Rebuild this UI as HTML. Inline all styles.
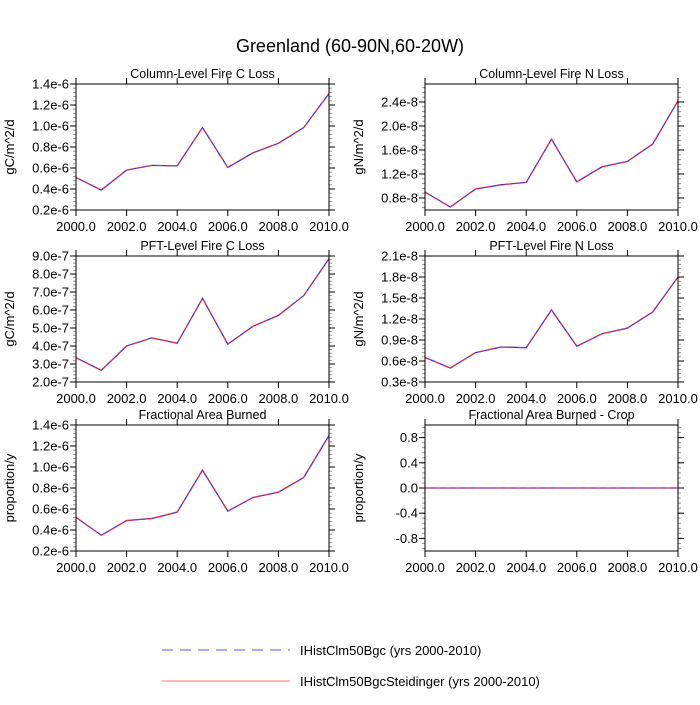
<!DOCTYPE html>
<html><head><meta charset="utf-8"><style>
body{margin:0;background:#fff;}
svg text{font-family:"Liberation Sans",sans-serif;fill:#000;}
</style></head><body>
<svg id="c" width="700" height="700" xmlns="http://www.w3.org/2000/svg">
<text x="350" y="52" font-size="18" text-anchor="middle">Greenland (60-90N,60-20W)</text>
<g id="panels"></g>
<g>
<line x1="162" y1="650" x2="290" y2="650" stroke="#5555ff" stroke-width="1" stroke-dasharray="11,7"/>
<text x="300" y="655" font-size="13">IHistClm50Bgc (yrs 2000-2010)</text>
<line x1="162" y1="681" x2="290" y2="681" stroke="#ff7777" stroke-width="1"/>
<text x="300" y="686" font-size="13">IHistClm50BgcSteidinger (yrs 2000-2010)</text>
</g>
</svg>
<script>
const years=[2000,2001,2002,2003,2004,2005,2006,2007,2008,2009,2010];
const xTicks=[2000,2002,2004,2006,2008,2010];
const xTickLabels=["2000.0","2002.0","2004.0","2006.0","2008.0","2010.0"];
const colCLoss=[0.51,0.39,0.58,0.625,0.62,0.985,0.605,0.745,0.835,0.985,1.31];
const colNLoss=[0.90,0.65,0.95,1.02,1.06,1.78,1.07,1.32,1.41,1.70,2.42];
const pftCLoss=[3.35,2.65,4.0,4.45,4.15,6.65,4.1,5.1,5.7,6.8,8.85];
const pftNLoss=[0.65,0.50,0.72,0.80,0.79,1.33,0.81,0.99,1.07,1.30,1.80];
const areaBurned=[0.52,0.35,0.49,0.51,0.57,0.97,0.58,0.71,0.76,0.90,1.30];
const areaBurnedCrop=[0,0,0,0,0,0,0,0,0,0,0];
const ticksCC=[0.2,0.4,0.6,0.8,1.0,1.2,1.4];
const labelsCC=["0.2e-6","0.4e-6","0.6e-6","0.8e-6","1.0e-6","1.2e-6","1.4e-6"];
const ticksCN=[0.8,1.2,1.6,2.0,2.4];
const labelsCN=["0.8e-8","1.2e-8","1.6e-8","2.0e-8","2.4e-8"];
const ticksPC=[2,3,4,5,6,7,8,9];
const labelsPC=["2.0e-7","3.0e-7","4.0e-7","5.0e-7","6.0e-7","7.0e-7","8.0e-7","9.0e-7"];
const ticksPN=[0.3,0.6,0.9,1.2,1.5,1.8,2.1];
const labelsPN=["0.3e-8","0.6e-8","0.9e-8","1.2e-8","1.5e-8","1.8e-8","2.1e-8"];
const ticksAB=[0.2,0.4,0.6,0.8,1.0,1.2,1.4];
const labelsAB=["0.2e-6","0.4e-6","0.6e-6","0.8e-6","1.0e-6","1.2e-6","1.4e-6"];
const ticksCr=[-0.8,-0.4,0,0.4,0.8];
const labelsCr=["-0.8","-0.4","0.0","0.4","0.8"];

const NS="http://www.w3.org/2000/svg";
const root=document.getElementById('panels');
function mk(tag,attrs,parent){const e=document.createElementNS(NS,tag);for(const k in attrs)e.setAttribute(k,attrs[k]);parent.appendChild(e);return e;}

const panels=[
 {name:"column-fire-c-loss",title:"Column-Level Fire C Loss",yl:"gC/m^2/d",x0:76,y0:84,vals:colCLoss,ymin:0.2,ymax:1.4,ticks:ticksCC,labels:labelsCC,minor:0.04},
 {name:"column-fire-n-loss",title:"Column-Level Fire N Loss",yl:"gN/m^2/d",x0:425,y0:84,vals:colNLoss,ymin:0.6,ymax:2.7,ticks:ticksCN,labels:labelsCN,minor:0.08},
 {name:"pft-fire-c-loss",title:"PFT-Level Fire C Loss",yl:"gC/m^2/d",x0:76,y0:256,vals:pftCLoss,ymin:2,ymax:9,ticks:ticksPC,labels:labelsPC,minor:0.2},
 {name:"pft-fire-n-loss",title:"PFT-Level Fire N Loss",yl:"gN/m^2/d",x0:425,y0:256,vals:pftNLoss,ymin:0.3,ymax:2.1,ticks:ticksPN,labels:labelsPN,minor:0.06},
 {name:"fractional-area-burned",title:"Fractional Area Burned",yl:"proportion/y",x0:76,y0:425,vals:areaBurned,ymin:0.2,ymax:1.4,ticks:ticksAB,labels:labelsAB,minor:0.04},
 {name:"fractional-area-burned-crop",title:"Fractional Area Burned - Crop",yl:"proportion/y",x0:425,y0:425,vals:areaBurnedCrop,ymin:-1,ymax:1,ticks:ticksCr,labels:labelsCr,minor:0.08}
];
const W=253,H=126;
panels.forEach(p=>{
 const g=mk('g',{},root);
 
 
 const xs=v=>p.x0+(v-2000)/10*W;
 const ys=v=>p.y0+H-(v-p.ymin)/(p.ymax-p.ymin)*H;
 const t=mk('text',{x:p.x0+W/2,y:p.y0-6,'font-size':12.5,'text-anchor':'middle'},g);
 t.textContent=p.title;
 
 
 const yt=mk('text',{x:0,y:0,'font-size':13,'text-anchor':'middle',transform:`translate(${p.x0-62},${p.y0+H/2}) rotate(-90)`},g);
 yt.textContent=p.yl;
 
 
 for(let v=Math.ceil(p.ymin/p.minor-1e-6)*p.minor;v<=p.ymax+1e-9;v+=p.minor){
  const y=ys(v);
  mk('line',{x1:p.x0,x2:p.x0-3,y1:y,y2:y,stroke:'#999','stroke-width':1},g);
  mk('line',{x1:p.x0+W,x2:p.x0+W+3,y1:y,y2:y,stroke:'#999','stroke-width':1},g);
 }
 p.ticks.forEach((v,i)=>{
  const y=ys(v);
  mk('line',{x1:p.x0-6,x2:p.x0,y1:y,y2:y,stroke:'#000','stroke-width':1},g);
  mk('line',{x1:p.x0+W,x2:p.x0+W+6,y1:y,y2:y,stroke:'#000','stroke-width':1},g);
  const l=mk('text',{x:p.x0-7,y:y+4.5,'font-size':13,'text-anchor':'end'},g);
  l.textContent=p.labels[i];
  
  
 });
 xTicks.forEach((v,i)=>{
  const x=xs(v);
  mk('line',{x1:x,x2:x,y1:p.y0+H,y2:p.y0+H+6,stroke:'#000','stroke-width':1},g);
  mk('line',{x1:x,x2:x,y1:p.y0,y2:p.y0-6,stroke:'#000','stroke-width':1},g);
  const l=mk('text',{x:x,y:p.y0+H+21,'font-size':13,'text-anchor':'middle'},g);
  l.textContent=xTickLabels[i];
  
  
 });
 const pts=p.vals.map((v,i)=>xs(years[i])+','+ys(v)).join(' ');
 const s1=mk('polyline',{points:pts,fill:'none',stroke:'#3333ff','stroke-width':1.3},g);
 
 
 const s2=mk('polyline',{points:pts,fill:'none',stroke:'#ff2222','stroke-width':1.1,'stroke-dasharray':'6,4'},g);
 
 
 const f=mk('rect',{x:p.x0,y:p.y0,width:W,height:H,fill:'none',stroke:'#000','stroke-width':1},g);
 
 
});
</script>
</body></html>
